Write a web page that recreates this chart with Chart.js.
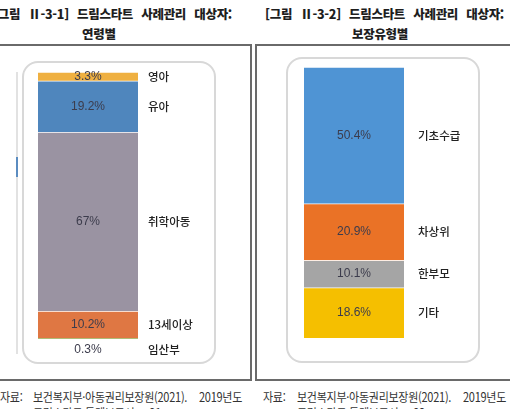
<!DOCTYPE html>
<html lang="ko">
<head>
<meta charset="utf-8">
<script src="https://cdn.jsdelivr.net/npm/chart.js@4/dist/chart.umd.min.js"></script>
<style>
  html, body { margin: 0; padding: 0; background: #fff; }
  body { width: 510px; height: 409px; position: relative; overflow: hidden;
         font-family: "Noto Sans CJK KR", sans-serif; color: #222; }
  .abs { position: absolute; white-space: nowrap; }
  .title { font-weight: 800; font-size: 12.5px; line-height: 16px; letter-spacing: -0.3px; color: #1e1e1e; }
  .src { font-size: 12.5px; line-height: 16px; color: #333; letter-spacing: -0.3px;
         transform: scaleX(0.88); transform-origin: left top; }
  .panel { position: absolute; border: 2px solid #6a6a6a; box-sizing: border-box; }
  .box { position: absolute; border: 2px solid #d8d8d8; border-radius: 16px; box-sizing: border-box; }
  canvas { position: absolute; }
</style>
</head>
<body>
<!-- titles -->
<div class="abs title" style="left:-7px; top:6px; word-spacing:5px;">[그림 Ⅱ-3-1] 드림스타트 사례관리 대상자:</div>
<div class="abs title" style="left:82px; top:26px;">연령별</div>
<div class="abs title" style="left:265px; top:6px; word-spacing:5px;">[그림 Ⅱ-3-2] 드림스타트 사례관리 대상자:</div>
<div class="abs title" style="left:352px; top:26px;">보장유형별</div>

<!-- frames -->
<div class="panel" style="left:-6px; top:44px; width:258px; height:337px;"></div>
<div class="panel" style="left:255px; top:44px; width:262px; height:337px;"></div>
<div class="box" style="left:22px; top:61px; width:194px; height:303px;"></div>
<div class="box" style="left:286px; top:57px; width:194px; height:306px;"></div>
<div class="abs" style="left:16px; top:72px; width:2px; height:282px; background:#e2e2e2;"></div>
<div class="abs" style="left:16px; top:157px; width:2px; height:20px; background:#5b8cc0;"></div>

<canvas id="ageChart" width="190" height="300" style="left:23px; top:62px;"></canvas>
<canvas id="typeChart" width="190" height="300" style="left:288px; top:59px;"></canvas>

<!-- sources -->
<div class="abs src" style="left:0px; top:389px;">자료:</div>
<div class="abs src" style="left:33px; top:389px;">보건복지부·아동권리보장원(2021).</div>
<div class="abs src" style="left:199px; top:389px;">2019년도</div>
<div class="abs src" style="left:33px; top:405px;">드림스타트 통계보고서, p.91</div>
<div class="abs src" style="left:263px; top:389px;">자료:</div>
<div class="abs src" style="left:297px; top:389px;">보건복지부·아동권리보장원(2021).</div>
<div class="abs src" style="left:463px; top:389px;">2019년도</div>
<div class="abs src" style="left:297px; top:405px;">드림스타트 통계보고서, p.92</div>

<script>
// 연령별 (top to bottom)
const ageLabels = ['영아', '유아', '취학아동', '13세이상', '임산부'];
const ageValues = [3.3, 19.2, 67, 10.2, 0.3];
const ageColors = ['#efb041', '#4f86bd', '#9a93a2', '#df7743', '#8cb356'];

// 보장유형별 (top to bottom)
const typeLabels = ['기초수급', '차상위', '한부모', '기타'];
const typeValues = [50.4, 20.9, 10.1, 18.6];
const typeColors = ['#4f94d4', '#ea7226', '#a5a5a5', '#f5bf00'];

// draws the % inside each segment and the name to the right
const segmentLabels = {
    id: 'segmentLabels',
    afterDatasetsDraw(chart, args, opts) {
        const ctx = chart.ctx;
        ctx.save();
        ctx.textBaseline = 'middle';
        chart.data.datasets.forEach((ds, i) => {
            const el = chart.getDatasetMeta(i).data[0];
            const p = el.getProps(['x', 'y', 'base', 'width'], true);
            let mid = (p.y + p.base) / 2;
            if (Math.abs(p.base - p.y) < 4) mid = Math.max(p.y, p.base) + 11;
            ctx.fillStyle = '#3c3c4c';
            ctx.font = '12px "Liberation Sans", Arial, sans-serif';
            ctx.textAlign = 'center';
            ctx.fillText(ds.data[0] + '%', p.x, mid + opts.dy);
            ctx.fillStyle = '#222222';
            ctx.font = '500 11.5px "Noto Sans CJK KR", sans-serif';
            ctx.textAlign = 'left';
            ctx.fillText(ds.label, p.x + p.width / 2 + opts.gap, mid + opts.dy);
        });
        ctx.restore();
    }
};

function makeStack(canvasId, labels, values, colors, padding, gap) {
    const ctx = document.getElementById(canvasId).getContext('2d');
    return new Chart(ctx, {
        type: 'bar',
        data: {
            labels: [''],
            datasets: labels.map((name, i) => ({
                label: name,
                data: [values[i]],
                backgroundColor: colors[i],
                borderColor: '#ffffff',
                borderWidth: { top: 1, bottom: 0, left: 0, right: 0 },
                borderSkipped: false,
                barPercentage: 1,
                categoryPercentage: 1
            }))
        },
        options: {
            responsive: false,
            animation: false,
            layout: { padding: padding },
            scales: {
                x: { stacked: true, display: false },
                y: { stacked: true, display: false, min: 0, max: 100, reverse: true }
            },
            plugins: {
                legend: { display: false },
                tooltip: { enabled: false },
                segmentLabels: { gap: gap, dy: 0 }
            }
        },
        plugins: [segmentLabels]
    });
}

makeStack('ageChart', ageLabels, ageValues, ageColors, { left: 15, right: 75, top: 10, bottom: 23 }, 10);
makeStack('typeChart', typeLabels, typeValues, typeColors, { left: 16, right: 74, top: 8, bottom: 21 }, 14);
</script>
</body>
</html>
